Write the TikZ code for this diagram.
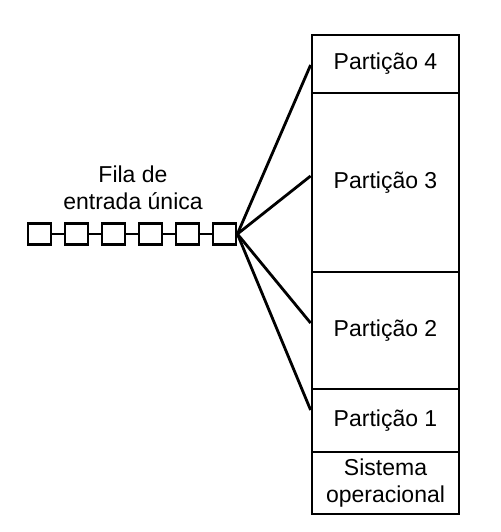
\documentclass[tikz,border=0pt]{standalone}
\usepackage{fontspec}
\setmainfont{Liberation Sans}
\begin{document}
\begin{tikzpicture}[x=1pt,y=-1pt,
  lw/.style={line width=2.8pt},
  part/.style={draw,lw,rectangle,minimum width=147pt,inner sep=0pt,font=\fontsize{23}{26.5}\selectfont,align=center},
  qbox/.style={draw,lw,rectangle,minimum width=23pt,minimum height=21pt,inner sep=0pt},
  conn/.style={lw}]
\useasboundingbox (0,0) rectangle (500,532);
\node[part,minimum height=58pt]  (p4) at (385.5,64)    {Partição 4};
\node[part,minimum height=179pt] (p3) at (385.5,182.5) {Partição 3};
\node[part,minimum height=117pt] (p2) at (385.5,330.5) {Partição 2};
\node[part,minimum height=63pt]  (p1) at (385.5,420.5) {Partição 1};
\node[part,minimum height=62pt]  (so) at (385.5,483)   {Sistema\\operacional};
\foreach \i/\x in {1/39.5,2/76.5,3/113.5,4/150.5,5/187.5,6/224.5}
  \node[qbox] (q\i) at (\x,234) {};
\foreach \a/\b in {1/2,2/3,3/4,4/5,5/6}
  \draw[conn] (q\a.east) -- (q\b.west);
\node[font=\fontsize{23}{27}\selectfont,align=center] (lbl) at (133,188) {Fila de\\entrada única};
\draw[conn] (q6.east) -- ([yshift=-1pt]p4.west);
\draw[conn] (q6.east) -- ([yshift=6.5pt]p3.west);
\draw[conn] (q6.east) -- ([yshift=7.5pt]p2.west);
\draw[conn] (q6.east) -- ([yshift=10.5pt]p1.west);
\end{tikzpicture}
\end{document}
